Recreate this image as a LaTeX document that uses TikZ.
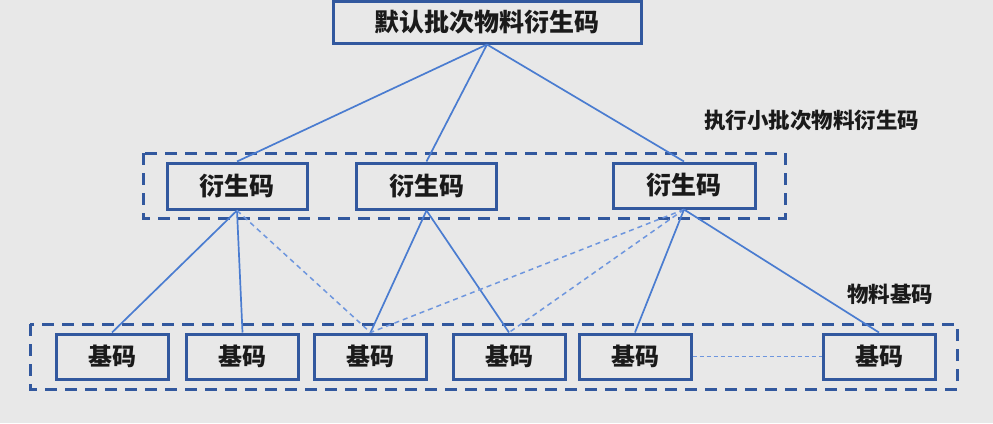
\documentclass[tikz,border=0pt]{standalone}
\usepackage{fontspec}
\setmainfont{Noto Sans CJK SC}
\usepackage{tikz}
\definecolor{bggray}{RGB}{232,232,232}
\definecolor{boxblue}{RGB}{50,88,158}
\definecolor{lineblue}{RGB}{74,124,208}
\definecolor{weakblue}{RGB}{110,150,222}
\definecolor{inkgray}{RGB}{26,26,26}

\begin{document}
\begin{tikzpicture}[
  x=1pt, y=-1pt,
  % --- Styles ---
  code/.style={
    rectangle, draw=boxblue, line width=3pt, fill=bggray,
    minimum width=112pt, minimum height=45pt, inner sep=0pt,
    text=inkgray, font=\fontsize{24}{24}\selectfont\bfseries
  },
  group/.style={draw=boxblue, line width=3pt, dash pattern=on 12pt off 8pt},
  link/.style={draw=lineblue, line width=1.7pt},
  weak/.style={draw=weakblue, line width=1.5pt, dash pattern=on 5pt off 4pt},
  note/.style={text=inkgray, font=\fontsize{21.5}{21.5}\selectfont\bfseries}
]

% ---- Canvas ----
\fill[bggray] (0,0) rectangle (993,423);
\useasboundingbox (0,0) rectangle (993,423);

% ---- Dashed groups ----
\draw[group] (143,153) rectangle (785,218);
\draw[group] (30,324) rectangle (957,389);

% ---- Top ----
\node[code, minimum width=308pt, minimum height=42pt,
      font=\fontsize{25}{25}\selectfont\bfseries] (dflt) at (487,22) {默认批次物料衍生码};

% ---- Derived codes ----
\node[code, minimum width=140pt, minimum height=46pt,
      font=\fontsize{25}{25}\selectfont\bfseries] (der1) at (237,186) {衍生码};
\node[code, minimum width=140pt, minimum height=46pt,
      font=\fontsize{25}{25}\selectfont\bfseries] (der2) at (426.5,186) {衍生码};
\node[code, minimum width=142pt, minimum height=45pt,
      font=\fontsize{25}{25}\selectfont\bfseries] (der3) at (684,185.5) {衍生码};

% ---- Base codes ----
\node[code] (base1) at (112,356.5) {基码};
\node[code] (base2) at (242.5,356.5) {基码};
\node[code] (base3) at (370.5,356.5) {基码};
\node[code] (base4) at (509,356.5) {基码};
\node[code] (base5) at (635,356.5) {基码};
\node[code] (base6) at (879,356.5) {基码};

% ---- Group labels ----
\node[note] (lblder) at (811.5,120) {执行小批次物料衍生码};
\node[note] (lblbase) at (890,294) {物料基码};

% ---- Top to derived ----
\draw[link] (dflt.south) -- (der1.north);
\draw[link] (dflt.south) -- (der2.north);
\draw[link] (dflt.south) -- (der3.north);

% ---- Derived to base ----
\draw[link] (der1.south) -- (base1.north);
\draw[link] (der1.south) -- (base2.north);
\draw[weak] (der1.south) -- (base3.north);
\draw[link] (der2.south) -- (base3.north);
\draw[link] (der2.south) -- (base4.north);
\draw[weak] (der3.south) -- (base3.north);
\draw[weak] (der3.south) -- (base4.north);
\draw[link] (der3.south) -- (base5.north);
\draw[link] (der3.south) -- (base6.north);

% ---- Omitted codes ----
\draw[weak, dash pattern=on 4pt off 3pt] (base5.east) -- (base6.west);

\end{tikzpicture}
\end{document}
